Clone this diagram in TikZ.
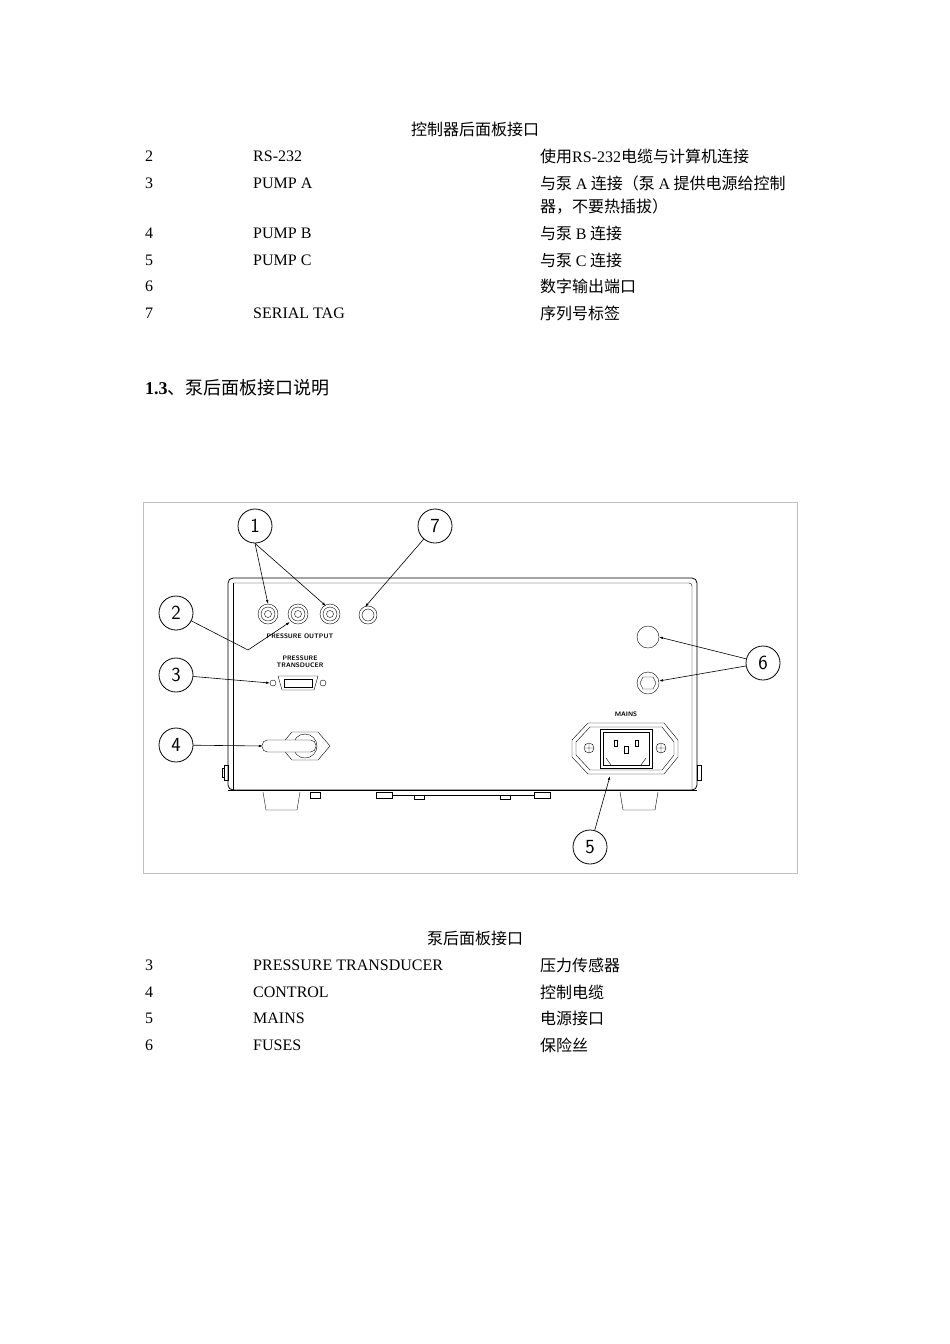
\documentclass[tikz,border=0pt]{standalone}
\usepackage{fontspec}
\setmainfont{Liberation Serif}
\newfontfamily\cjk{Noto Sans CJK SC}
\usetikzlibrary{arrows.meta}
\begin{document}
\begin{tikzpicture}[x=1pt,y=-1pt,
  txt/.style={anchor=west,inner sep=0pt,font=\fontsize{16}{19}\selectfont},
  ctxt/.style={inner sep=0pt,font=\fontsize{16}{19}\selectfont},
  callout/.style={circle,draw,thick,minimum size=34pt,inner sep=0pt,font=\sffamily\fontsize{20}{22}\selectfont},
  lead/.style={-{Latex[length=4pt,width=2.5pt]},semithick},
  tiny/.style={inner sep=0pt,font=\sffamily\bfseries\fontsize{6.5}{7}\selectfont,align=center}]
\useasboundingbox (0,0) rectangle (950,1344);
\node[ctxt] (t1) at (475,129) {\cjk 控制器后面板接口};
\foreach \y/\a/\b/\c [count=\i] in {156/2/RS-232/{使用\rmfamily RS-232\cjk 电缆与计算机连接},183/3/PUMP A/{与泵 \rmfamily A\cjk{} 连接（泵 \rmfamily A\cjk{} 提供电源给控制},233/4/PUMP B/{与泵 \rmfamily B\cjk{} 连接},260/5/PUMP C/{与泵 \rmfamily C\cjk{} 连接},286/6//{数字输出端口},313/7/SERIAL TAG/{序列号标签}}{
  \node[txt] (ra\i) at (145,\y) {\a};
  \node[txt] (rb\i) at (253,\y) {\b};
  \node[txt] (rc\i) at (540,\y) {\cjk \c};
}
\node[txt] (rc2b) at (540,207) {\cjk 器，不要热插拔）};
\node[txt,font=\fontsize{18}{21}\selectfont] (h13) at (145,388) {\textbf{1.3}\cjk 、泵后面板接口说明};
\draw[gray!50] (143,502) rectangle (797,873);
% body
\draw[thick,rounded corners=5pt] (228,578) rectangle (697,790);
\draw[rounded corners=3pt] (233,583) -- (692,583) -- (692,790);
\draw (233,583) -- (233,790);
\draw[thick] (228,790) -- (697,790);
% feet and tabs
\draw (263,792) -- (266,810) -- (297,810) -- (300,792);
\draw (620,792) -- (623,810) -- (655,810) -- (658,792);
\draw (310,792) rectangle (320,798);
\draw (376,792) rectangle (392,798) (392,795) -- (534,795) (534,792) rectangle (550,798);
\draw (414,795) rectangle (424,799) (500,795) rectangle (510,799);
\draw (224,765) rectangle (228,780) (222,768) rectangle (224,777);
\draw (697,765) rectangle (701,780);
% connectors
\foreach \x/\n in {268/ca,298/cb,330/cc}{
  \draw (\x,614) circle (10); \draw (\x,614) circle (7); \draw (\x,614) circle (3.5);
}
\draw (368,615) circle (9); \draw (368,615) circle (6);
\node[tiny] (po) at (300,636) {PRESSURE OUTPUT};
\node[tiny] (pt) at (300,662) {PRESSURE\\TRANSDUCER};
\draw (278,676) -- (318,676) -- (314,690) -- (282,690) -- cycle;
\draw (273,683) circle (3) (323,683) circle (3);
\draw (284,679) rectangle (312,687);
% cable gland
\draw (292,732) -- (318,732) -- (330,746) -- (318,760) -- (292,760) -- (280,746) -- cycle;
\draw (305,746) circle (12);
\draw[fill=white,rounded corners=5.5pt] (262,740) rectangle (316,752);
% mains
\node[tiny] (mn) at (626,714) {MAINS};
\draw (588,723) -- (664,723) -- (678,740) -- (678,757) -- (664,774) -- (588,774) -- (572,757) -- (572,740) -- cycle;
\draw (590,727) -- (662,727) -- (674,742) -- (674,755) -- (662,770) -- (590,770) -- (576,755) -- (576,742) -- cycle;
\draw (600,729) rectangle (652,768); \draw (603,732) rectangle (649,765);
\draw (606,758) -- (611,765) (646,758) -- (641,765);
\draw (614,740) rectangle (617,746) (635,740) rectangle (638,746) (624,746) rectangle (628,753);
\foreach \x in {589,661}{\draw (\x,748) circle (5) (\x-4,748) -- (\x+4,748) (\x,744) -- (\x,752);}
% fuses
\draw (648,637) circle (11);
\draw (648,683) circle (11);
\draw (643,677) -- (653,677) -- (656,683) -- (653,689) -- (643,689) -- (640,683) -- cycle;
% callouts
\node[callout] (c1) at (255,526) {1};
\node[callout] (c7) at (435,526) {7};
\node[callout] (c2) at (176,613) {2};
\node[callout] (c3) at (176,675) {3};
\node[callout] (c4) at (176,745) {4};
\node[callout] (c6) at (763,663) {6};
\node[callout] (c5) at (590,847) {5};
\coordinate (p1a) at (268,604); \coordinate (p1b) at (326,606);
\coordinate (p7) at (365,607); \coordinate (p2m) at (248,650); \coordinate (p2) at (290,622);
\coordinate (p3) at (270,683); \coordinate (p4) at (263,746);
\coordinate (p6a) at (659,637); \coordinate (p6b) at (659,681); \coordinate (p5) at (610,776);
\draw[lead] (c1.south) -- (p1a);
\draw[lead] (c1.south) -- (p1b);
\draw[lead] (c7) -- (p7);
\draw[lead] (c2) -- (p2m) -- (p2);
\draw[lead] (c3) -- (p3);
\draw[lead] (c4) -- (p4);
\draw[lead] (c6) -- (p6a);
\draw[lead] (c6) -- (p6b);
\draw[lead] (c5) -- (p5);
% bottom table
\node[ctxt] (t2) at (475,938) {\cjk 泵后面板接口};
\foreach \y/\a/\b/\c [count=\i] in {965/3/PRESSURE TRANSDUCER/压力传感器,992/4/CONTROL/控制电缆,1018/5/MAINS/电源接口,1045/6/FUSES/保险丝}{
  \node[txt] (sa\i) at (145,\y) {\a};
  \node[txt] (sb\i) at (253,\y) {\b};
  \node[txt] (sc\i) at (540,\y) {\cjk \c};
}
\end{tikzpicture}
\end{document}
